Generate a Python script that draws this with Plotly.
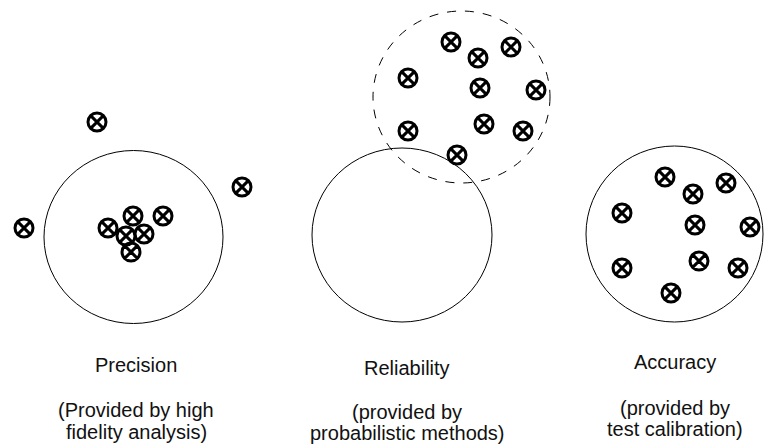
import plotly.graph_objects as go

# Circles (center x, center y, radius x, radius y) in page-pixel data units
circle_cx = [133.5, 402, 461.5, 674.5]
circle_cy = [237, 235, 97, 234]
circle_rx = [89.5, 90, 88.5, 88.5]
circle_ry = [86.5, 87, 86, 88]
circle_dash = ["solid", "solid", "dash", "solid"]

# Target hit markers
precision_x = [97, 242, 24, 133, 163, 108, 126, 144, 131]
precision_y = [122, 187, 228, 216, 216, 228, 236, 234, 252]

reliability_x = [451, 478, 511, 408, 480, 536, 408, 484, 523, 457]
reliability_y = [42, 58, 47, 78, 88, 90, 131, 124, 131, 155]

accuracy_x = [665, 693, 726, 622, 695, 750, 622, 699, 738, 671]
accuracy_y = [177, 194, 183, 213, 225, 227, 268, 261, 268, 293]

# Label lines (text, center x, center y)
label_text = ["Precision", "(Provided by high", "fidelity analysis)",
              "Reliability", "(provided by", "probabilistic methods)",
              "Accuracy", "(provided by", "test calibration)"]
label_x = [136, 136, 136, 407, 407, 407, 675, 675, 675]
label_y = [365, 410, 432, 368, 412, 433, 362, 408, 429]

fig = go.Figure()

for xs, ys in [(precision_x, precision_y), (reliability_x, reliability_y), (accuracy_x, accuracy_y)]:
    fig.add_trace(go.Scatter(
        x=xs, y=ys, mode="markers",
        marker=dict(symbol="circle-x-open", size=18, color="black",
                    line=dict(width=3, color="black")),
        hoverinfo="skip", showlegend=False,
    ))

for cx, cy, rx, ry, d in zip(circle_cx, circle_cy, circle_rx, circle_ry, circle_dash):
    fig.add_shape(type="circle", xref="x", yref="y",
                  x0=cx - rx, x1=cx + rx, y0=cy - ry, y1=cy + ry,
                  line=dict(color="black", width=1, dash="dash" if d == "dash" else "solid"),
                  layer="below")

font = dict(family="Liberation Sans, Arial, sans-serif", size=20, color="#111111")
for t, x, y in zip(label_text, label_x, label_y):
    fig.add_annotation(x=x, y=y, text=t, showarrow=False, font=font,
                       xanchor="center", yanchor="middle")

# The page body has an 8px margin; map data units directly to page pixels
fig.update_layout(
    width=766, height=437,
    margin=dict(l=0, r=0, t=0, b=0),
    paper_bgcolor="white", plot_bgcolor="white",
    xaxis=dict(range=[8, 774], visible=False, fixedrange=True),
    yaxis=dict(range=[445, 8], visible=False, fixedrange=True),
)

fig.write_html("out.html")
